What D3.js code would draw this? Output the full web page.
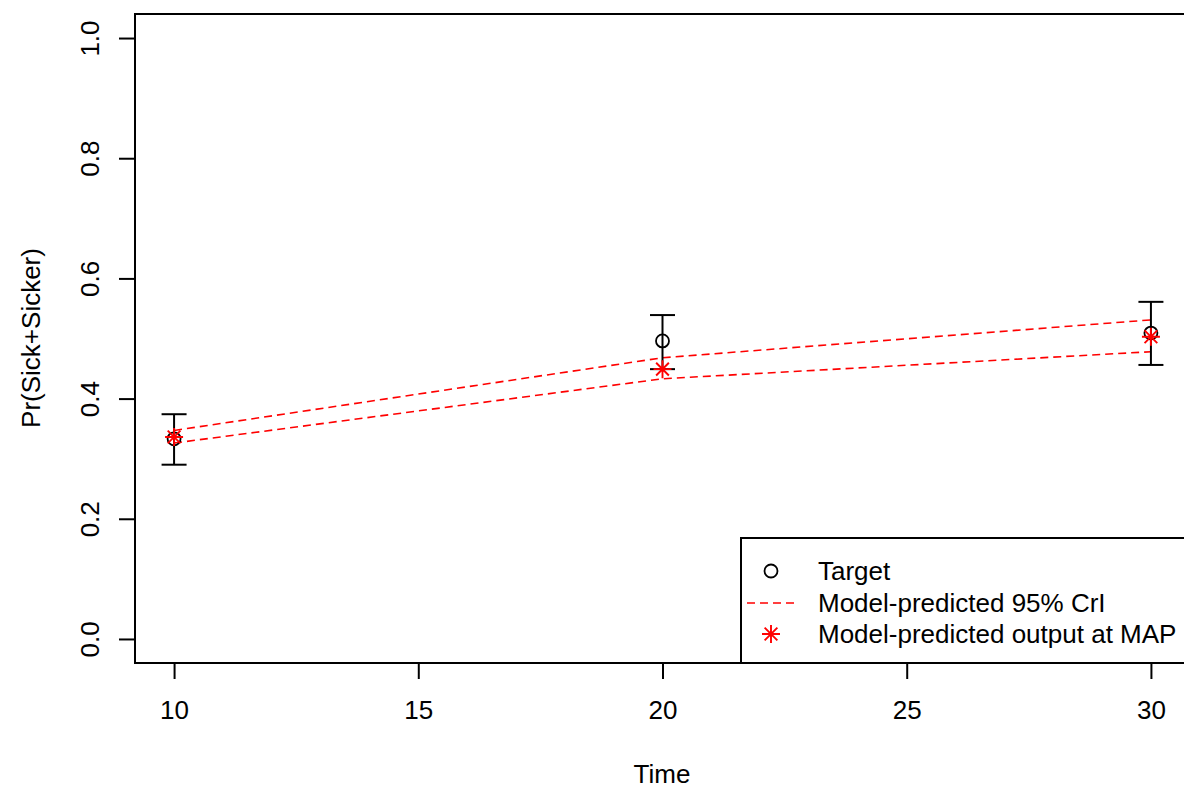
<!DOCTYPE html>
<html><head><meta charset="utf-8">
<script src="https://cdn.jsdelivr.net/npm/d3@7"></script>
<style>body{margin:0;background:#fff}svg{display:block;font-family:"Liberation Sans",Arial,sans-serif}</style>
</head><body>
<svg id="c" width="1184" height="790"></svg>
<script>
const times = [10, 20, 30];
const target = [0.333, 0.496, 0.509];
const targetLow = [0.290, 0.449, 0.456];
const targetHigh = [0.374, 0.539, 0.561];
const crlUpper = [0.347, 0.468, 0.531];
const crlLower = [0.326, 0.433, 0.478];
const mapOutput = [0.336, 0.449, 0.503];
const xTicks = [10, 15, 20, 25, 30];
const yTicks = [0.0, 0.2, 0.4, 0.6, 0.8, 1.0];
const legendLabels = ["Target", "Model-predicted 95% CrI", "Model-predicted output at MAP"];

const svg = d3.select("#c");
const x = d3.scaleLinear().domain([9.2, 30.8]).range([135, 1190]);
const y = d3.scaleLinear().domain([-0.04, 1.04]).range([663, 14]);
const fs = 26;

// axes
const xAxis = svg.append("g").attr("transform", "translate(0,663)")
  .call(d3.axisBottom(x).tickValues(xTicks).tickFormat(d3.format("d")).tickSize(16).tickSizeOuter(0));
xAxis.select(".domain").remove();
xAxis.selectAll("line").attr("stroke", "#000").attr("stroke-width", 2);
xAxis.selectAll("text").attr("font-size", fs).attr("fill", "#000").attr("dy", null).attr("y", 56);

const yAxis = svg.append("g").attr("transform", "translate(135,0)")
  .call(d3.axisLeft(y).tickValues(yTicks).tickFormat(d3.format(".1f")).tickSize(16).tickSizeOuter(0));
yAxis.select(".domain").remove();
yAxis.selectAll("line").attr("stroke", "#000").attr("stroke-width", 2);
yAxis.selectAll("text").attr("font-size", fs).attr("fill", "#000")
  .attr("x", null).attr("dy", null)
  .attr("transform", "translate(-36,0) rotate(-90)")
  .attr("text-anchor", "middle").attr("y", 0);

// plot box
svg.append("rect").attr("x", 135).attr("y", 14).attr("width", 1190 - 135).attr("height", 663 - 14)
  .attr("fill", "none").attr("stroke", "#000").attr("stroke-width", 2);

// labels
svg.append("text").attr("x", 662).attr("y", 783).attr("text-anchor", "middle").attr("font-size", fs).text("Time");
svg.append("text").attr("transform", "translate(40,338) rotate(-90)").attr("text-anchor", "middle").attr("font-size", fs).text("Pr(Sick+Sicker)");

// CrI dashed lines
const line = d3.line().x((d, i) => x(times[i])).y(d => y(d));
[crlUpper, crlLower].forEach(arr => {
  svg.append("path").attr("d", line(arr)).attr("fill", "none").attr("stroke", "#ff0000")
    .attr("stroke-width", 1.6).attr("stroke-dasharray", "8,5");
});

// error bars
const cap = 12.5;
times.forEach((t, i) => {
  const g = svg.append("g").attr("stroke", "#000").attr("stroke-width", 2);
  g.append("line").attr("x1", x(t)).attr("x2", x(t)).attr("y1", y(targetLow[i])).attr("y2", y(targetHigh[i]));
  g.append("line").attr("x1", x(t) - cap).attr("x2", x(t) + cap).attr("y1", y(targetLow[i])).attr("y2", y(targetLow[i]));
  g.append("line").attr("x1", x(t) - cap).attr("x2", x(t) + cap).attr("y1", y(targetHigh[i])).attr("y2", y(targetHigh[i]));
});

// target circles
svg.selectAll(".tgt").data(target).enter().append("circle")
  .attr("cx", (d, i) => x(times[i])).attr("cy", d => y(d)).attr("r", 6.5)
  .attr("fill", "none").attr("stroke", "#000").attr("stroke-width", 1.8);

// star symbol
function star(g, cx, cy) {
  const r = 9, d = r * 0.707;
  const p = `M${cx - r},${cy}L${cx + r},${cy}M${cx},${cy - r}L${cx},${cy + r}` +
    `M${cx - d},${cy - d}L${cx + d},${cy + d}M${cx - d},${cy + d}L${cx + d},${cy - d}`;
  g.append("path").attr("d", p).attr("stroke", "#ff0000").attr("stroke-width", 1.9).attr("fill", "none");
}
mapOutput.forEach((v, i) => star(svg, x(times[i]), y(v)));

// legend
const lg = svg.append("g");
lg.append("rect").attr("x", 741).attr("y", 538).attr("width", 500).attr("height", 125)
  .attr("fill", "#fff").attr("stroke", "#000").attr("stroke-width", 2);
const rows = [571, 603, 634];
lg.append("circle").attr("cx", 771).attr("cy", rows[0]).attr("r", 6.5).attr("fill", "none").attr("stroke", "#000").attr("stroke-width", 1.8);
lg.append("line").attr("x1", 747).attr("x2", 794).attr("y1", rows[1]).attr("y2", rows[1])
  .attr("stroke", "#ff0000").attr("stroke-width", 1.6).attr("stroke-dasharray", "8,5");
star(lg, 771, rows[2]);
legendLabels.forEach((s, i) => {
  lg.append("text").attr("x", 818).attr("y", rows[i]).attr("dy", "0.35em").attr("font-size", fs).text(s);
});
</script>
</body></html>
